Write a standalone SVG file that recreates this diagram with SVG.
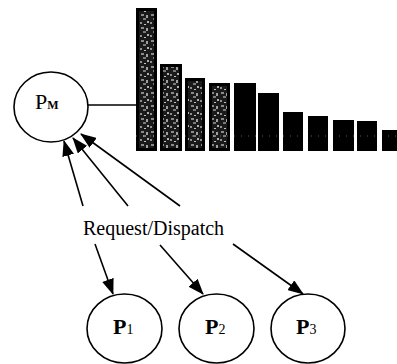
<svg xmlns="http://www.w3.org/2000/svg" width="397" height="364" viewBox="0 0 397 364">
<style>
.node{fill:#fff;stroke:#000;stroke-width:1.6}
.lbl{font-family:"Liberation Serif","Times New Roman",serif;fill:#000}
.edge{stroke:#000;stroke-width:1.6;fill:none}
.bar{fill:#000}
.tex{fill:url(#speck)}
</style>
<defs>
<marker id="ah" viewBox="0 0 16 12" refX="15" refY="6" markerWidth="16" markerHeight="12" markerUnits="userSpaceOnUse" orient="auto">
<path d="M0,0 L16,6 L0,12 z" fill="#000"/>
</marker>
<pattern id="speck" width="10" height="13" patternUnits="userSpaceOnUse">
<rect width="10" height="13" fill="#1a1a1a"/>
<rect x="1" y="1" width="3" height="2" fill="#8a8a8a"/>
<rect x="6" y="2" width="2" height="3" fill="#a0a0a0"/>
<rect x="3" y="5" width="3" height="2" fill="#7a7a7a"/>
<rect x="7" y="8" width="2" height="2" fill="#b0b0b0"/>
<rect x="0" y="9" width="2" height="2" fill="#909090"/>
<rect x="4" y="11" width="2" height="1" fill="#c0c0c0"/>
</pattern>
</defs>
<g id="bars">
<rect class="bar" x="136" y="8" width="21" height="143"/>
<rect class="tex" x="139" y="11" width="15" height="137"/>
<rect class="bar" x="160" y="64" width="22" height="87"/>
<rect class="tex" x="163" y="67" width="16" height="81"/>
<rect class="bar" x="185" y="78" width="20" height="73"/>
<rect class="tex" x="188" y="81" width="14" height="67"/>
<rect class="bar" x="209" y="83" width="21" height="68"/>
<rect class="tex" x="212" y="86" width="15" height="62"/>
<rect class="bar" x="234" y="83" width="22" height="68"/>
<rect class="bar" x="258" y="93" width="21" height="58"/>
<rect class="bar" x="283" y="112" width="20" height="39"/>
<rect class="bar" x="308" y="116" width="20" height="35"/>
<rect class="bar" x="333" y="120" width="21" height="31"/>
<rect class="bar" x="357" y="121" width="20" height="30"/>
<rect class="bar" x="382" y="130" width="15" height="21"/>
<line x1="136" y1="136" x2="397" y2="136" stroke="#fff" stroke-width="0.6" stroke-dasharray="1 6" opacity="0.6"/>
</g>
<g id="connectors">
<line class="edge" x1="87" y1="105" x2="136" y2="105"/>
<line class="edge" x1="83" y1="206" x2="64" y2="141" marker-end="url(#ah)"/>
<line class="edge" x1="128" y1="206" x2="73" y2="138" marker-end="url(#ah)"/>
<line class="edge" x1="180" y1="206" x2="81" y2="134" marker-end="url(#ah)"/>
<line class="edge" x1="95" y1="244" x2="113" y2="294" marker-end="url(#ah)"/>
<line class="edge" x1="160" y1="245" x2="203" y2="294" marker-end="url(#ah)"/>
<line class="edge" x1="233" y1="244" x2="303" y2="294" marker-end="url(#ah)"/>
</g>
<g id="label-request">
<text class="lbl" x="83" y="235" font-size="20">Request/Dispatch</text>
</g>
<g id="node-PM">
<ellipse class="node" cx="51" cy="107" rx="37" ry="35"/>
<text class="lbl" x="35" y="109" font-size="22">P<tspan font-size="12" font-weight="bold">M</tspan></text>
</g>
<g id="node-P1">
<ellipse class="node" cx="124.5" cy="328.5" rx="37.5" ry="34.5"/>
<text class="lbl" x="113" y="334" font-size="22" font-weight="bold">P<tspan font-size="14" font-weight="normal">1</tspan></text>
</g>
<g id="node-P2">
<ellipse class="node" cx="216.5" cy="328.5" rx="37.5" ry="34.5"/>
<text class="lbl" x="205" y="334" font-size="22" font-weight="bold">P<tspan font-size="14" font-weight="normal">2</tspan></text>
</g>
<g id="node-P3">
<ellipse class="node" cx="308" cy="328.5" rx="37" ry="34.5"/>
<text class="lbl" x="296" y="334" font-size="22" font-weight="bold">P<tspan font-size="14" font-weight="normal">3</tspan></text>
</g>
</svg>
